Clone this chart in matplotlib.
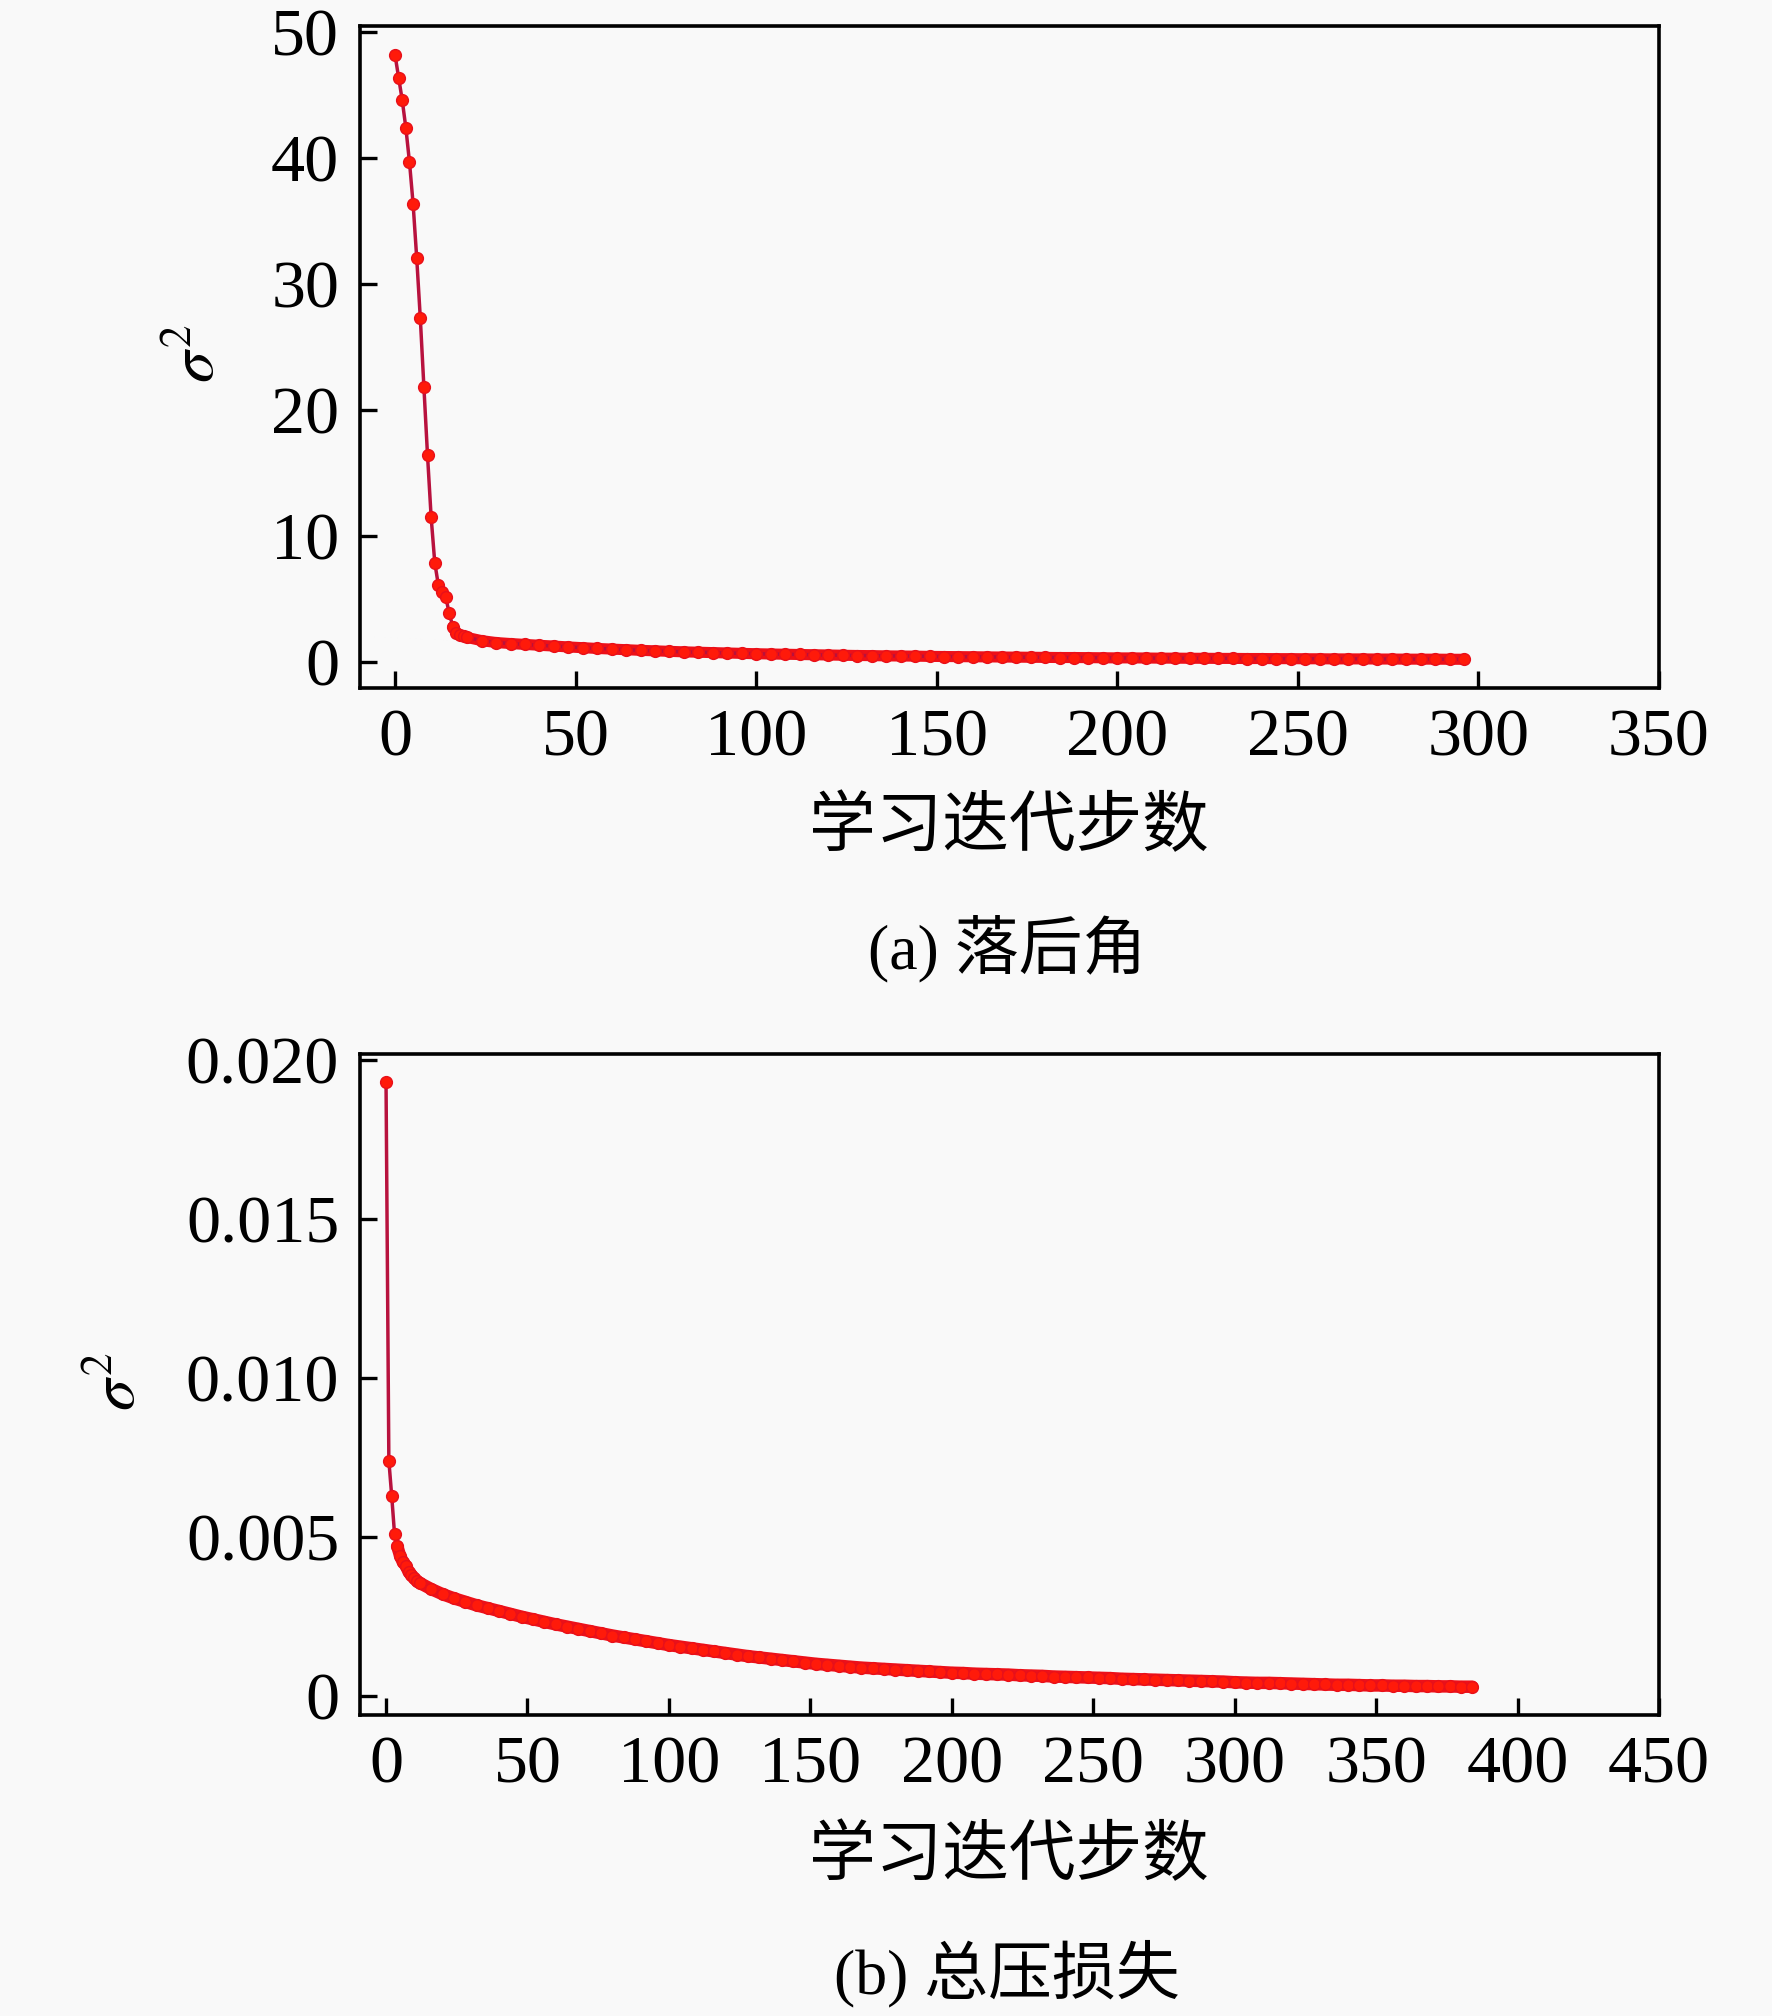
import matplotlib
matplotlib.use("Agg")
import matplotlib.pyplot as plt

plt.rcParams['font.family'] = ['Liberation Serif', 'Noto Sans CJK SC']
plt.rcParams['mathtext.fontset'] = 'stix'

# (a) 落后角: 前20步逐步取值, 之后每4步取值
steps_a = list(range(0, 20)) + list(range(20, 297, 4))
sigma_a = [48.2, 46.4, 44.6, 42.4, 39.7, 36.4, 32.1, 27.3, 21.8, 16.4,
           11.5, 7.9, 6.1, 5.6, 5.2, 3.9, 2.8, 2.3, 2.15, 2.05,
           1.95, 1.7, 1.55, 1.47, 1.4, 1.33, 1.27, 1.2, 1.14, 1.08,
           1.03, 0.98, 0.93, 0.89, 0.85, 0.81, 0.78, 0.75, 0.72, 0.69,
           0.66, 0.64, 0.62, 0.6, 0.58, 0.56, 0.54, 0.52, 0.51, 0.49,
           0.48, 0.47, 0.45, 0.44, 0.43, 0.42, 0.41, 0.4, 0.39, 0.38,
           0.37, 0.36, 0.36, 0.35, 0.34, 0.33, 0.33, 0.32, 0.31, 0.31,
           0.3, 0.3, 0.29, 0.29, 0.28, 0.28, 0.27, 0.27, 0.26, 0.26,
           0.25, 0.25, 0.25, 0.24, 0.24, 0.23, 0.23, 0.23, 0.22, 0.22]

# (b) 总压损失
steps_b = list(range(0, 12)) + list(range(12, 385, 4))
sigma_b = [0.0193, 0.0074, 0.0063, 0.0051, 0.0047, 0.0044, 0.0042, 0.0041,
           0.0039, 0.0038, 0.0037, 0.0036,
           0.00355, 0.00336, 0.00320, 0.00307, 0.00296, 0.00285, 0.00276, 0.00267,
           0.00258, 0.00249, 0.00241, 0.00233, 0.00225, 0.00218, 0.00211, 0.00204,
           0.00197, 0.00190, 0.00184, 0.00178, 0.00172, 0.00166, 0.00160, 0.00155,
           0.00150, 0.00145, 0.00140, 0.00135, 0.00130, 0.00125, 0.00121, 0.00117,
           0.00113, 0.00109, 0.00105, 0.00101, 0.00098, 0.00095, 0.00092, 0.00089,
           0.00087, 0.00085, 0.00083, 0.00081, 0.00079, 0.00077, 0.00075, 0.00073,
           0.00072, 0.00070, 0.00069, 0.00068, 0.00067, 0.00065, 0.00064, 0.00063,
           0.00061, 0.00060, 0.00059, 0.00058, 0.00057, 0.00056, 0.00054, 0.00053,
           0.00052, 0.00051, 0.00050, 0.00049, 0.00048, 0.00047, 0.00046, 0.00045,
           0.00043, 0.00042, 0.00041, 0.00041, 0.00040, 0.00039, 0.00038, 0.00037,
           0.00036, 0.00035, 0.00035, 0.00034, 0.00033, 0.00033, 0.00032, 0.00032,
           0.00031, 0.00031, 0.00030, 0.00030, 0.00029, 0.00029]

xticks_a = [0, 50, 100, 150, 200, 250, 300, 350]
yticks_a = [0, 10, 20, 30, 40, 50]
xticks_b = [0, 50, 100, 150, 200, 250, 300, 350, 400, 450]
yticks_b = [0, 0.005, 0.010, 0.015, 0.020]
ytick_labels_b = ['0', '0.005', '0.010', '0.015', '0.020']

W, H = 1772, 2016
bg = '#f9f9f9'
fig = plt.figure(figsize=(W / 100, H / 100), dpi=100, facecolor=bg)

def box(l, t, r, b):
    return [l / W, 1 - b / H, (r - l) / W, (b - t) / H]

ax1 = fig.add_axes(box(360, 26, 1659, 688))
ax2 = fig.add_axes(box(360, 1054, 1659, 1715))

# dense tail: draw a thick band under the markers (starting index, band width)
for ax, x, y, i0, bw in [(ax1, steps_a, sigma_a, 16, 8.0),
                         (ax2, steps_b, sigma_b, 4, 9.0)]:
    ax.set_facecolor(bg)
    ax.plot(x[i0:], y[i0:], color='#ee1018', lw=bw, solid_capstyle='round',
            solid_joinstyle='round', zorder=2)
    ax.plot(x, y, color='#b8123e', lw=2.5, marker='o', markersize=8.5,
            markerfacecolor='#ff1a0a', markeredgecolor='#e8101a',
            markeredgewidth=1.0, zorder=3)
    for s in ax.spines.values():
        s.set_linewidth(2.6)
    ax.tick_params(direction='in', length=12, width=2.4, labelsize=49,
                   top=False, right=False, pad=15)

ax1.set_xlim(-9.7, 350)
ax1.set_ylim(-2.06, 50.5)
ax1.set_xticks(xticks_a)
ax1.set_yticks(yticks_a)

ax2.set_xlim(-9.2, 450)
ax2.set_ylim(-0.0006, 0.02019)
ax2.set_xticks(xticks_b)
ax2.set_yticks(yticks_b)
ax2.set_yticklabels(ytick_labels_b)

fig.text(199 / W, 1 - 354 / H, r'$\sigma^2$', rotation=90, fontsize=46,
         ha='center', va='center')
fig.text(120 / W, 1 - 1382 / H, r'$\sigma^2$', rotation=90, fontsize=46,
         ha='center', va='center')

fig.text(1009 / W, 1 - 829 / H, '学习迭代步数', fontsize=48, ha='center', va='center')
fig.text(1007 / W, 1 - 949 / H, '(a) 落后角', fontsize=46, ha='center', va='center')
fig.text(1009 / W, 1 - 1858 / H, '学习迭代步数', fontsize=48, ha='center', va='center')
fig.text(1007 / W, 1 - 1974 / H, '(b) 总压损失', fontsize=46, ha='center', va='center')

fig.savefig('out.png', dpi=100, facecolor=bg)
